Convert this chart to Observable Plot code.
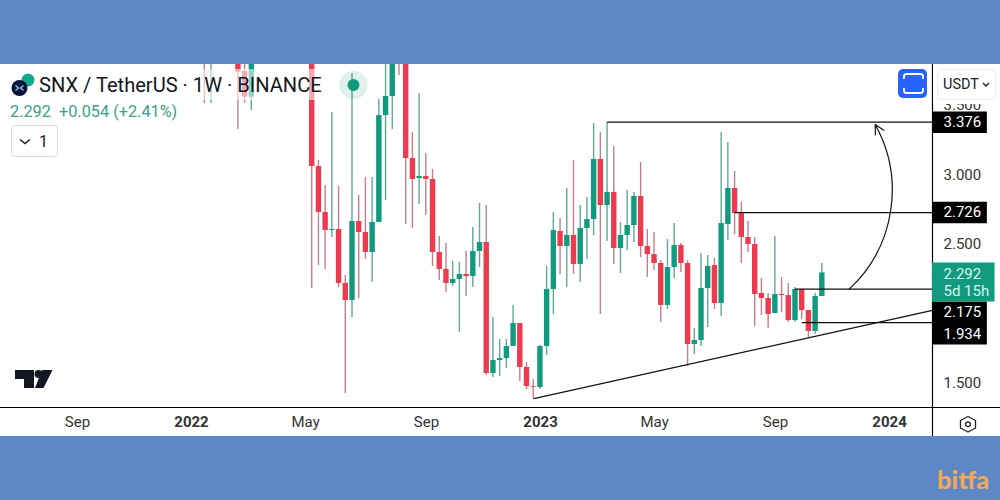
<!DOCTYPE html>
<html><head><meta charset="utf-8">
<script src="https://cdn.jsdelivr.net/npm/d3@7"></script>
<script src="https://cdn.jsdelivr.net/npm/@observablehq/plot@0.6"></script>
<style>
html,body{margin:0;padding:0;background:#5c88c6;width:1000px;height:500px;overflow:hidden}
#stage{position:relative;width:1000px;height:500px;font-family:Roboto,sans-serif}
#paper{position:absolute;left:0;top:64px;width:1000px;height:372px;background:#fff}
#chart{position:absolute;left:0;top:0}
.abs{position:absolute}
</style></head><body>
<div id="stage"><div id="paper"></div><div id="chart"></div>
<div class="abs" style="left:36px;top:69px;width:287px;height:31px;background:rgba(255,255,255,.55)"></div>
<div class="abs" style="left:39px;top:72px;font-size:20.1px;line-height:26px;color:#131722;white-space:nowrap">SNX / TetherUS · 1W · BINANCE</div>
<div class="abs" style="left:10px;top:102px;font-size:16.3px;line-height:20px;color:#3aa08a;white-space:pre">2.292  +0.054 (+2.41%)</div>
<div class="abs" style="left:11px;top:125px;width:45px;height:30px;border:1px solid #dcdcdc;border-radius:4px;background:#fff;color:#222;font-size:16px;line-height:31px;white-space:pre;text-align:right;box-sizing:content-box"><span style="padding-right:9px">1</span></div>
<svg class="abs" style="left:0;top:0" width="1000" height="500" fill="none">
  <path d="M20 139.5l5 4 5-4" stroke="#222" stroke-width="1.6"/>
  <circle cx="28" cy="80" r="6.5" fill="#14a88f"/>
  <circle cx="19.5" cy="88" r="8" fill="#0b1238"/>
  <path d="M15.5 85.5l3 2.5-3 2.5M23.5 85.5l-3 2.5 3 2.5" stroke="#7fd4f0" stroke-width="1.3"/>
  <circle cx="353.5" cy="85" r="14" fill="#129a7f" fill-opacity=".14"/>
  <circle cx="353.5" cy="85" r="6" fill="#129a7f"/>
  <rect x="898" y="69" width="29" height="29" rx="5" fill="#2962ff"/>
  <path d="M904 79v-2.5a2.5 2.5 0 0 1 2.5-2.5h14a2.5 2.5 0 0 1 2.5 2.5V79M904 88v2.5a2.5 2.5 0 0 0 2.5 2.5h14a2.5 2.5 0 0 0 2.5-2.5V88" stroke="#fff" stroke-width="1.8"/>
  <path d="M15 370h19v18h-10v-9h-9z" fill="#131722"/>
  <circle cx="38.5" cy="374" r="4" fill="#131722"/>
  <path d="M42 370h10.5l-9 18H35z" fill="#131722"/>
  <path d="M968 416.5l7.5 4v7.5l-7.5 4-7.5-4v-7.5z" stroke="#222" stroke-width="1.3" stroke-linejoin="round"/>
  <circle cx="968" cy="424.2" r="2.4" stroke="#222" stroke-width="1.3"/>
</svg>
<div class="abs" style="left:933px;top:64px;width:67px;height:40px;background:#fff"></div>
<div class="abs" style="left:937px;top:69px;width:59px;height:31px;border:1px solid #ececec;border-radius:5px;background:#fff;box-sizing:border-box;color:#222;font-size:14.5px;line-height:29px;padding-left:5px;white-space:pre">USDT <svg width="8" height="6" style="vertical-align:1px" fill="none"><path d="M1 1l3 3 3-3" stroke="#222" stroke-width="1.4"/></svg></div>
<div class="abs" style="left:937px;top:462px;font-family:Lato,sans-serif;font-weight:900;font-size:25.5px;line-height:34px;color:#f0a95c">bitfa</div>
</div>
<script>
// Weekly candles, oldest first (null = week is entirely above the visible window)
const open = [4.3,4.0,null,null,null,4.0,3.741,3.556,null,null,null,null,null,null,null,null,
4.8,3.058,2.727,2.597,2.604,2.216,2.094,2.662,2.583,2.439,2.655,3.424,3.561,4.3,4.1,3.115,2.971,2.986,2.964,2.439,2.317,2.216,2.245,2.281,2.266,2.446,2.511,1.568,1.662,1.676,1.763,1.928,1.612,1.475,1.468,1.763,2.173,2.590,2.482,2.561,2.353,2.612,2.676,3.108,2.777,2.871,2.468,2.561,2.633,2.842,2.482,2.424,2.360,2.058,2.331,2.489,2.360,1.777,1.806,2.180,2.345,2.072,2.640,2.899,2.719,2.547,2.496,2.144,2.108,2.0,2.137,2.129,1.950,2.173,2.022,1.871,2.122];
const close = [4.0,4.3,null,null,null,3.736,3.556,3.95,null,null,null,null,null,null,null,null,
3.058,2.727,2.597,2.604,2.216,2.094,2.662,2.583,2.439,2.655,3.424,3.561,3.9,4.1,3.115,2.964,2.986,2.964,2.439,2.317,2.216,2.245,2.281,2.266,2.446,2.511,1.568,1.662,1.676,1.763,1.928,1.612,1.475,1.470,1.763,2.173,2.597,2.482,2.561,2.353,2.612,2.676,3.108,2.777,2.871,2.468,2.561,2.633,2.842,2.482,2.424,2.360,2.058,2.331,2.489,2.360,1.777,1.806,2.180,2.338,2.072,2.647,2.899,2.719,2.547,2.496,2.137,2.108,1.993,2.137,2.129,1.950,2.173,2.022,1.871,2.122,2.292];
const high = [4.4,4.4,null,null,null,4.2,3.85,4.1,null,null,null,null,null,null,null,null,
5,3.101,2.921,3.446,2.914,2.273,3.727,2.849,2.978,2.978,3.540,3.9,4.0,4.4,4.2,3.302,3.583,3.151,3.036,2.554,2.504,2.374,2.367,2.446,2.619,2.791,2.777,1.971,1.813,1.813,2.058,1.928,1.647,1.525,1.770,2.338,2.727,2.683,2.899,3.101,2.777,2.835,3.367,3.302,3.376,3.201,2.655,2.885,2.871,3.086,2.604,2.583,2.381,2.532,2.647,2.504,2.381,1.892,2.432,2.417,2.396,3.302,3.230,3.022,2.799,2.662,2.547,2.252,2.144,2.554,2.259,2.216,2.187,2.173,2.022,2.144,2.360];
const low = [3.511,3.511,null,null,null,3.324,3.513,3.460,null,null,null,null,null,null,null,null,
2.180,2.345,2.317,2.547,2.187,1.424,1.971,2.108,2.388,2.223,2.655,2.813,3.324,3.712,2.640,2.612,2.784,2.705,2.338,2.237,2.151,2.194,1.863,2.122,2.187,2.331,1.554,1.540,1.547,1.604,1.763,1.511,1.453,1.388,1.453,1.698,1.993,2.281,2.187,2.281,2.223,2.388,2.561,1.993,2.518,2.353,2.288,2.453,2.511,2.403,2.259,2.309,1.935,2.029,2.252,2.295,1.619,1.705,1.763,1.899,2.029,1.978,2.525,2.568,2.360,2.439,1.906,1.986,1.892,2.0,2.007,1.935,1.935,1.957,1.827,1.849,2.122];
const weeks = d3.utcMonday.range(new Date("2022-01-17"), new Date("2023-10-24"));
const monthTicks = ["2021-09-06","2022-05-02","2022-09-05","2023-05-01","2023-09-04"].map(d => new Date(d));
const yearTicks = ["2022-01-03","2023-01-02","2024-01-01"].map(d => new Date(d));
const priceTicks = [1.5, 2.5, 3.0, 3.5];
const levelPrices = [3.376, 2.726, 2.175, 1.934];
const levelStarts = ["2023-03-13","2023-07-24","2023-09-25","2023-10-02"].map(d => new Date(d));
const levelShifts = [0, 0, 23, 11];
const trendDates = ["2022-12-26","2024-02-14T19:00"].map(d => new Date(d+(d.length>10?"Z":"")));
const trendPrices = [1.388, 2.022];
const arrowDates = ["2023-11-20","2023-12-17"].map(d => new Date(d));
const arrowPrices = [2.175, 3.36];
const lastPrice = 2.292;

const xStart = new Date("2021-06-17T19:00Z"), xEnd = new Date("2024-02-14T19:00Z");
const xTagEnd = new Date("2024-04-12T00:00Z"), xGreenEnd = new Date("2024-04-20T00:00Z"), xPageEnd = new Date("2024-05-25T00:00Z");
const yBottom = 1.324, yTop = 3.791, yPageBottom = 1.115;
const GREEN = "#129a7f", RED = "#ee3a4e", WICK_G = "#5fa898", WICK_R = "#c67d8a";

const rows = weeks.map((date,i) => ({date, o:open[i], c:close[i], h:high[i], l:low[i]})).filter(d => d.o != null);
const up = d => d.c >= d.o;

const tag = (value, shift, text) => [
  Plot.ruleY([value], {x1:xEnd, x2:xTagEnd, stroke:"#000", strokeWidth:21.5, dy:shift}),
  Plot.text([value], {x:xEnd, y:d=>d, text:()=>text, dx:11, dy:shift, textAnchor:"start", fill:"#fff", fontSize:15})
];

const chart = Plot.plot({
  width:1000, height:500, marginTop:64, marginBottom:93, marginLeft:0, marginRight:68,
  style:{background:"transparent", fontFamily:"Roboto, sans-serif", overflow:"visible"},
  x:{type:"utc", domain:[xStart,xEnd], range:[0,932]},
  y:{type:"linear", domain:[yBottom,yTop], range:[407,64]},
  marks:[
    Plot.axisY({anchor:"right", ticks:priceTicks, tickFormat:".3f", tickSize:0, tickPadding:11, label:null, fontSize:15, fill:"#333", dy:0.5}),
    Plot.axisX({anchor:"bottom", ticks:monthTicks, tickFormat:d3.utcFormat("%b"), tickSize:0, tickPadding:9, label:null, fontSize:15, fill:"#333"}),
    Plot.axisX({anchor:"bottom", ticks:yearTicks, tickFormat:d3.utcFormat("%Y"), tickSize:0, tickPadding:9, label:null, fontSize:15, fontWeight:700, fill:"#333"}),
    Plot.ruleX(rows, {x:"date", y1:"l", y2:"h", stroke:d=>up(d)?WICK_G:WICK_R, strokeWidth:1.4, dx:-0.6, clip:true}),
    Plot.ruleX(rows, {x:"date", y1:"o", y2:"c", stroke:d=>up(d)?GREEN:RED, strokeWidth:5.4, dx:-0.6, clip:true}),
    Plot.ruleY(levelPrices, {x1:(d,i)=>levelStarts[i], x2:xEnd, stroke:"#111", strokeWidth:1.2}),
    Plot.line(trendPrices.map((p,i)=>({d:trendDates[i],p})), {x:"d", y:"p", stroke:"#111", strokeWidth:1.2}),
    Plot.arrow([0], {x1:()=>arrowDates[0], y1:()=>arrowPrices[0], x2:()=>arrowDates[1], y2:()=>arrowPrices[1], bend:-38, stroke:"#111", strokeWidth:1.2, headLength:13, headAngle:55}),
    Plot.ruleX([xEnd], {y1:yTop, y2:yPageBottom, stroke:"#000", strokeWidth:1.2}),
    Plot.ruleY([yBottom], {x1:xStart, x2:xPageEnd, stroke:"#000", strokeWidth:1.2}),
    ...tag(levelPrices[0], levelShifts[0], "3.376"),
    ...tag(levelPrices[1], levelShifts[1], "2.726"),
    ...tag(levelPrices[2], levelShifts[2], "2.175"),
    ...tag(levelPrices[3], levelShifts[3], "1.934"),
    Plot.ruleY([lastPrice], {x1:xEnd, x2:xGreenEnd, stroke:GREEN, strokeWidth:39, dy:9}),
    Plot.text([lastPrice], {x:xEnd, y:d=>d, text:()=>"2.292", dx:11, dy:1, textAnchor:"start", fill:"#d8f5ee", fontSize:15}),
    Plot.text([lastPrice], {x:xEnd, y:d=>d, text:()=>"5d 15h", dx:11, dy:18.5, textAnchor:"start", fill:"#d8f5ee", fontSize:15})
  ]
});
document.getElementById("chart").appendChild(chart);
</script>
</body></html>
